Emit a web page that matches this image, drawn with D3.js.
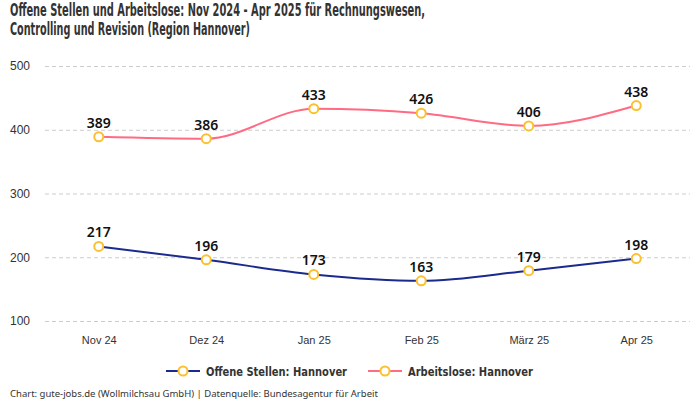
<!DOCTYPE html>
<html><head><meta charset="utf-8">
<script src="https://cdn.jsdelivr.net/npm/d3@7"></script>
<style>body{margin:0;background:#fff}svg{display:block}</style>
</head><body>
<svg id="c" width="700" height="400"></svg>
<script>
const categories = ["Nov 24","Dez 24","Jan 25","Feb 25","März 25","Apr 25"];
const offeneStellen = [217,196,173,163,179,198];
const arbeitslose = [389,386,433,426,406,438];
const yTicks = [100,200,300,400,500];
const seriesNames = ["Offene Stellen: Hannover","Arbeitslose: Hannover"];
const seriesColors = ["#1b2a8f","#ff6b83"];

const svg = d3.select("#c");
const font = "'Noto Sans', sans-serif";
const axisFont = "'Liberation Sans', Arial, sans-serif";
const titleFont = "'DejaVu Sans Condensed',sans-serif";

const x = d3.scalePoint().domain(categories).range([45,690]).padding(0.5);
const y = d3.scaleLinear().domain([100,500]).range([321,66]);

svg.append("text").attr("x",10).attr("y",16).attr("font-family",titleFont).attr("font-weight","bold")
  .attr("font-size",17).attr("fill","#333").attr("textLength",415).attr("lengthAdjust","spacingAndGlyphs")
  .text("Offene Stellen und Arbeitslose: Nov 2024 - Apr 2025 für Rechnungswesen,");
svg.append("text").attr("x",10).attr("y",35).attr("font-family",titleFont).attr("font-weight","bold")
  .attr("font-size",17).attr("fill","#333").attr("textLength",240).attr("lengthAdjust","spacingAndGlyphs")
  .text("Controlling und Revision (Region Hannover)");

// grid
const yAxis = d3.axisLeft(y).tickValues(yTicks).tickSize(-(690-45)).tickPadding(15);
const gy = svg.append("g").attr("transform","translate(45,0)").call(yAxis);
gy.select(".domain").remove();
gy.selectAll(".tick line").attr("stroke","#ccc").attr("stroke-dasharray","4,3");
gy.selectAll(".tick text").attr("font-family",axisFont).attr("font-size",12).attr("fill","#333");

const xAxis = d3.axisBottom(x).tickSize(0).tickPadding(10);
const gx = svg.append("g").attr("transform","translate(0,326)").call(xAxis);
gx.select(".domain").remove();
gx.selectAll(".tick text").attr("font-family",axisFont).attr("font-size",11).attr("fill","#333");

const line = d3.line().x((d,i)=>x(categories[i])).y(d=>y(d)).curve(d3.curveMonotoneX);
[offeneStellen, arbeitslose].forEach((data,si)=>{
  svg.append("path").attr("d",line(data)).attr("fill","none").attr("stroke",seriesColors[si]).attr("stroke-width",2);
  const g = svg.append("g");
  g.selectAll("circle").data(data).join("circle")
    .attr("cx",(d,i)=>x(categories[i])).attr("cy",d=>y(d)).attr("r",4.5)
    .attr("fill","#fff").attr("stroke","#fbc02d").attr("stroke-width",2);
  g.selectAll("text").data(data).join("text")
    .attr("x",(d,i)=>x(categories[i])).attr("y",d=>y(d)-9).attr("text-anchor","middle")
    .attr("font-family",font).attr("font-weight",600).attr("font-size",14).attr("fill","#111").text(d=>d);
});

// legend
const legX = [166,368];
const legW = [141,125];
seriesNames.forEach((n,i)=>{
  const g = svg.append("g").attr("transform",`translate(${legX[i]},371)`);
  g.append("line").attr("x1",0).attr("x2",34).attr("stroke",seriesColors[i]).attr("stroke-width",2);
  g.append("circle").attr("cx",17).attr("r",4.5).attr("fill","#fff").attr("stroke","#fbc02d").attr("stroke-width",2);
  g.append("text").attr("x",40).attr("y",5).attr("font-family",titleFont).attr("font-weight","bold")
    .attr("font-size",13).attr("fill","#333").attr("textLength",legW[i]).attr("lengthAdjust","spacingAndGlyphs").text(n);
});

svg.append("text").attr("x",10).attr("y",397).attr("font-family",font).attr("font-size",9.5).attr("fill","#333")
  .text("Chart: gute-jobs.de (Wollmilchsau GmbH) | Datenquelle: Bundesagentur für Arbeit");
</script>
</body></html>
